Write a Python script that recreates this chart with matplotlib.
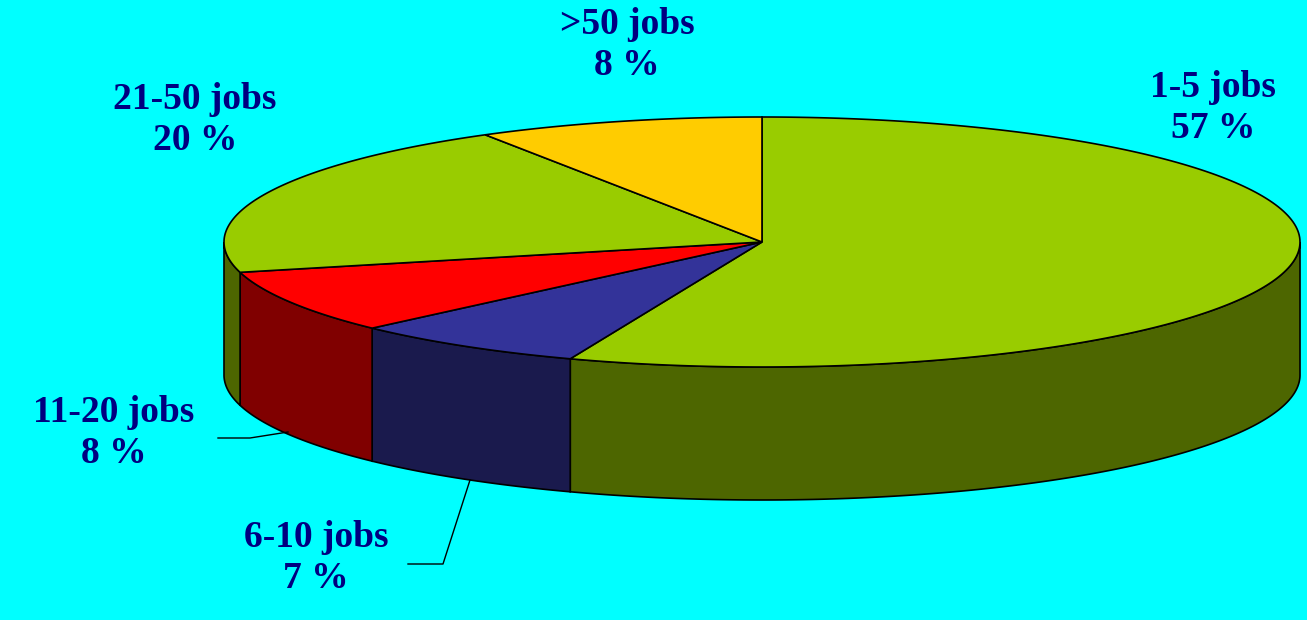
import numpy as np
import matplotlib
matplotlib.use("Agg")
import matplotlib.pyplot as plt
from matplotlib.patches import Polygon

# shares, the printed labels are rounded differently
categories = ["1-5 jobs", "6-10 jobs", "11-20 jobs", "21-50 jobs", ">50 jobs"]
percent_labels = ["57 %", "7 %", "8 %", "20 %", "8 %"]
slice_shares = [55.8, 7.1, 8.2, 20.3, 8.6]
top_colors = ["#99cc00", "#333399", "#ff0000", "#99cc00", "#ffcc00"]
side_colors = ["#4d6600", "#1a1a4d", "#800000", "#4d6600", "#806600"]

cx, cy = 762, 242
rx, ry = 538, 125
depth = 133


def rim(a0, a1, dy=0):
    # angle runs clockwise from 12 o'clock, in degrees
    t = np.radians(np.linspace(a0, a1, 200))
    return np.column_stack([cx + rx * np.sin(t), cy - ry * np.cos(t) + dy])


fig = plt.figure(figsize=(13.07, 6.2), dpi=100, facecolor="#00ffff")
ax = fig.add_axes([0, 0, 1, 1])
ax.set_xlim(0, 1307)
ax.set_ylim(620, 0)
ax.axis("off")

stops = np.cumsum([0] + slice_shares) / sum(slice_shares) * 360

# walls first, only the front half of the rim can be seen
for i in range(len(slice_shares)):
    a0 = max(stops[i], 90)
    a1 = min(stops[i + 1], 270)
    if a1 <= a0:
        continue
    pts = np.vstack([rim(a0, a1), rim(a0, a1, depth)[::-1]])
    ax.add_patch(Polygon(pts, closed=True, fc=side_colors[i], ec="black", lw=1.2, zorder=2))

# top of the pie
for i in range(len(slice_shares)):
    pts = np.vstack([[cx, cy], rim(stops[i], stops[i + 1])])
    ax.add_patch(Polygon(pts, closed=True, fc=top_colors[i], ec="black", lw=1.2, zorder=3))

# leader lines
ax.plot([218, 250, 288], [438, 438, 432], color="black", lw=1, zorder=4)
ax.plot([470, 443, 408], [480, 564, 564], color="black", lw=1, zorder=4)

label_pos = [(1213, 108), (316, 558), (114, 433), (195, 120), (627, 45)]
for name, pct, (x, y) in zip(categories, percent_labels, label_pos):
    ax.text(x, y, name + "\n" + pct, ha="center", va="center", color="#000080",
            family="Liberation Serif", fontweight="bold", fontsize=27, linespacing=1.22, zorder=5)

fig.savefig("out.png", dpi=100, facecolor=fig.get_facecolor())
